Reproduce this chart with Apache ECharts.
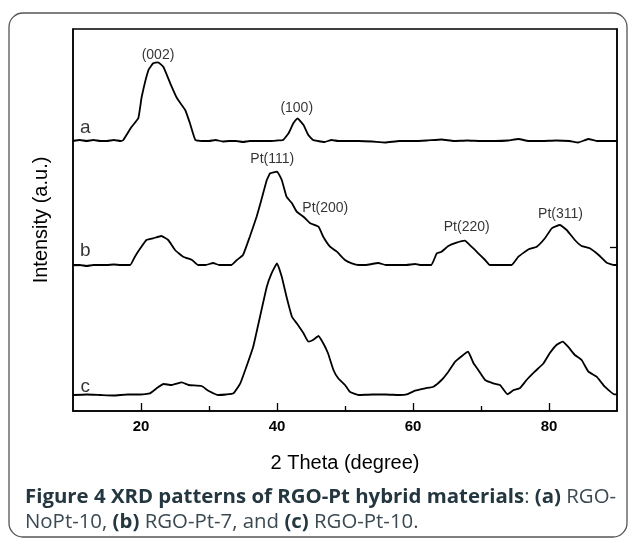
<!DOCTYPE html>
<html>
<head>
<meta charset="utf-8">
<script src="https://cdn.jsdelivr.net/npm/echarts@6/dist/echarts.min.js"></script>
<style>
  html, body { margin: 0; padding: 0; background: #fff; }
  #chart { width: 629px; height: 538px; }
</style>
</head>
<body>
<div id="chart"></div>
<script>
// pattern a: RGO-NoPt-10 (offset upward)
const thetaA = [10, 11, 12, 13, 14, 15, 16, 17, 17.4, 18.6, 19.6, 20.1, 21.1, 21.8, 22.5, 23.3, 24.3, 25.3, 26.5, 27.2, 28.0, 29, 30, 31, 32, 33, 34, 35, 36, 37, 38, 39, 40, 40.9, 41.7, 42.4, 43.0, 43.9, 44.6, 45.3, 46, 47, 48, 49, 50, 52, 54, 55.9, 58, 60, 62, 64.2, 66, 68, 70, 72, 74, 75.5, 77, 79, 81, 83, 84.3, 85.8, 87, 89, 90];
const intA = [270, 271, 270, 271, 270, 270, 271, 270, 271, 284, 292.7, 314, 341, 347.7, 348.7, 344, 327.7, 312.7, 301, 287.7, 271, 270, 270, 271, 269.5, 270, 270, 269, 270, 270, 270, 270, 270.5, 271, 277.7, 287.7, 292.7, 286, 276, 271, 270, 269, 271, 270, 270, 270, 269.5, 268.5, 270, 270, 270.5, 271.5, 270, 270.5, 270, 270, 270.5, 272, 270, 270, 270.5, 270, 268.5, 272, 270, 270, 270];

// pattern b: RGO-Pt-7
const thetaB = [10, 11, 12, 13, 14, 15, 16, 17, 18.4, 19.1, 19.9, 20.8, 21.8, 23.0, 24.0, 25.0, 26.2, 27.5, 28.4, 29.5, 30.6, 31.5, 32.5, 33.3, 34.1, 35.0, 36.0, 37.0, 37.7, 38.5, 39.0, 40.0, 40.7, 41.4, 42.2, 42.9, 43.9, 44.9, 46.1, 46.8, 47.8, 48.8, 50.0, 51, 52, 53, 54.9, 56, 57, 58, 59, 60.3, 61, 62, 62.7, 63.5, 64.2, 65.2, 66.4, 67.6, 68.6, 69.6, 70.6, 71.3, 72.5, 73.5, 74.5, 75.5, 77.0, 78.2, 79.4, 80.4, 81.6, 82.6, 83.8, 84.8, 86.0, 87.3, 88.5, 89.6, 90];
const intB = [146, 146, 145, 146, 146, 146, 146.5, 146, 146, 154.3, 162.7, 171, 172.7, 175, 171, 161, 154.3, 151, 146, 146, 148, 146, 146, 146, 151, 156, 174.3, 194.3, 211, 231, 237.7, 239.3, 231, 214.3, 207.7, 199.3, 194.3, 187.7, 184.3, 174.3, 164.3, 159.3, 151, 147.7, 146, 146, 148, 146, 146, 146, 146, 147, 146, 146, 146, 157.7, 159.3, 165, 168.3, 170.3, 164.3, 157.7, 151, 146, 146, 146, 146, 154.3, 161.7, 164.3, 172.7, 182.7, 186, 181, 171, 165, 162.7, 156, 148.3, 146, 146];

// pattern c: RGO-Pt-10
const thetaC = [10, 12, 14, 16, 18, 20, 21.3, 22.3, 23.3, 24.5, 26.0, 27.0, 28.9, 29.9, 31.4, 32.5, 33.6, 34.6, 35.5, 36.5, 37.5, 38.5, 39.2, 40.0, 40.7, 41.4, 42.2, 42.9, 43.9, 44.6, 45.3, 46.1, 46.8, 47.5, 48.3, 49.0, 50.0, 50.7, 52, 54, 56, 58, 59.1, 60.3, 61.8, 63.0, 64.2, 65.2, 66.2, 67.2, 68.1, 68.9, 69.6, 70.6, 71.8, 72.8, 73.9, 74.8, 75.7, 76.7, 77.9, 79.2, 80.1, 81.1, 82.0, 82.8, 83.8, 84.8, 85.8, 87.0, 88.2, 89.6, 90];
const intC = [16, 16.5, 16, 15.5, 16.5, 16.5, 17.7, 22.7, 27, 26, 28.7, 26, 25, 20.3, 16, 16.5, 17.7, 27.7, 44.3, 64.3, 94.3, 124.3, 137.7, 147.7, 134.3, 114.3, 94.3, 87.7, 77.7, 69.3, 71, 75, 67.7, 57.7, 41, 32.7, 26, 19.3, 16, 16.5, 16.5, 16, 16.7, 20.3, 22.7, 24.3, 31, 39.3, 49.3, 55, 59.3, 47.7, 41, 31, 27.7, 26, 16.7, 21, 22.7, 31, 39.3, 47.7, 57.7, 66, 69.3, 64.3, 56, 51, 39.3, 34.3, 24.3, 16.7, 16.7];

// peak labels and curve letters
const annoText = ['(002)', '(100)', 'Pt(111)', 'Pt(200)', 'Pt(220)', 'Pt(311)'];
const annoX = [22.5, 42.9, 39.3, 47.1, 67.9, 81.7];
const annoY = [356, 303, 252, 203, 184, 197];
const curveNames = ['a', 'b', 'c'];
const curveLabelX = [11.8, 11.8, 11.8];
const curveLabelY = [283, 160, 24];

const xMajorTicks = [20, 40, 60, 80];
const xMinorTicks = [30, 50, 70];
const yLeftTicks = [146];
const yRightTicks = [164];

const chart = echarts.init(document.getElementById('chart'));

function pairs(xs, ys) {
  return xs.map((x, i) => [x, ys[i]]);
}

function lineSeries(xs, ys) {
  return {
    type: 'line',
    data: pairs(xs, ys),
    showSymbol: false,
    smooth: 0.12,
    lineStyle: { color: '#000', width: 1.8 },
    silent: true
  };
}

const boldText = { fontFamily: 'Open Sans', fontWeight: 'bold', fontSize: 20.4, fill: '#24363f' };
const plainText = { fontFamily: 'Open Sans', fontSize: 20.4, fill: '#3b4a52' };

const option = {
  animation: false,
  grid: {
    left: 73, top: 29, right: 12, bottom: 127,
    show: true, borderColor: '#000', borderWidth: 1.5
  },
  xAxis: [{
    type: 'value', min: 10, max: 90,
    name: '2 Theta (degree)', nameLocation: 'middle', nameGap: 42,
    nameTextStyle: { fontFamily: 'Liberation Sans', fontSize: 20, color: '#000' },
    axisLine: { lineStyle: { color: '#000', width: 1.5 } },
    axisTick: { inside: true, length: 8, customValues: xMajorTicks, lineStyle: { color: '#000', width: 1.3 } },
    axisLabel: {
      customValues: xMajorTicks, margin: 8,
      fontFamily: 'Liberation Sans', fontWeight: 'bold', fontSize: 15, color: '#000'
    },
    splitLine: { show: false }
  }, {
    type: 'value', min: 10, max: 90, position: 'bottom',
    axisLine: { show: false },
    axisTick: { inside: true, length: 5, customValues: xMinorTicks, lineStyle: { color: '#000', width: 1.3 } },
    axisLabel: { show: false },
    splitLine: { show: false }
  }],
  yAxis: [{
    type: 'value', min: 0, max: 382,
    name: 'Intensity (a.u.)', nameLocation: 'middle', nameGap: 22,
    nameTextStyle: { fontFamily: 'Liberation Sans', fontSize: 20, color: '#000' },
    axisLine: { show: true, lineStyle: { color: '#000', width: 1.5 } },
    axisTick: { show: true, inside: true, length: 7, customValues: yLeftTicks, lineStyle: { color: '#000', width: 1.3 } },
    axisLabel: { show: false },
    splitLine: { show: false }
  }, {
    type: 'value', min: 0, max: 382, position: 'right',
    axisLine: { show: true, lineStyle: { color: '#000', width: 1.5 } },
    axisTick: { show: true, inside: true, length: 7, customValues: yRightTicks, lineStyle: { color: '#000', width: 1.3 } },
    axisLabel: { show: false },
    splitLine: { show: false }
  }],
  series: [
    lineSeries(thetaA, intA),
    lineSeries(thetaB, intB),
    lineSeries(thetaC, intC),
    {
      type: 'scatter',
      symbolSize: 0,
      silent: true,
      data: annoText.map((t, i) => ({ name: t, value: [annoX[i], annoY[i]] })),
      label: {
        show: true, position: 'inside', formatter: '{b}',
        fontFamily: 'Liberation Sans', fontSize: 14, color: '#000'
      }
    },
    {
      type: 'scatter',
      symbolSize: 0,
      silent: true,
      data: curveNames.map((t, i) => ({ name: t, value: [curveLabelX[i], curveLabelY[i]] })),
      label: {
        show: true, position: 'inside', formatter: '{b}',
        fontFamily: 'Liberation Sans', fontSize: 19, color: '#000'
      }
    }
  ],
  graphic: [
    {
      type: 'rect', silent: true, z: -1,
      shape: { x: 9, y: 13, width: 618, height: 524, r: 14 },
      style: { fill: 'none', stroke: '#555', lineWidth: 1.3 }
    },
    {
      type: 'text', left: 25, top: 487, silent: true,
      style: {
        text: '{b|Figure 4 XRD patterns of RGO-Pt hybrid materials}{n|: }{b|(a)}{n| RGO-}',
        rich: { b: boldText, n: plainText }
      }
    },
    {
      type: 'text', left: 25, top: 512, silent: true,
      style: {
        text: '{n|NoPt-10, }{b|(b)}{n| RGO-Pt-7, and }{b|(c)}{n| RGO-Pt-10.}',
        rich: { b: boldText, n: plainText }
      }
    }
  ]
};

chart.setOption(option);
</script>
</body>
</html>
